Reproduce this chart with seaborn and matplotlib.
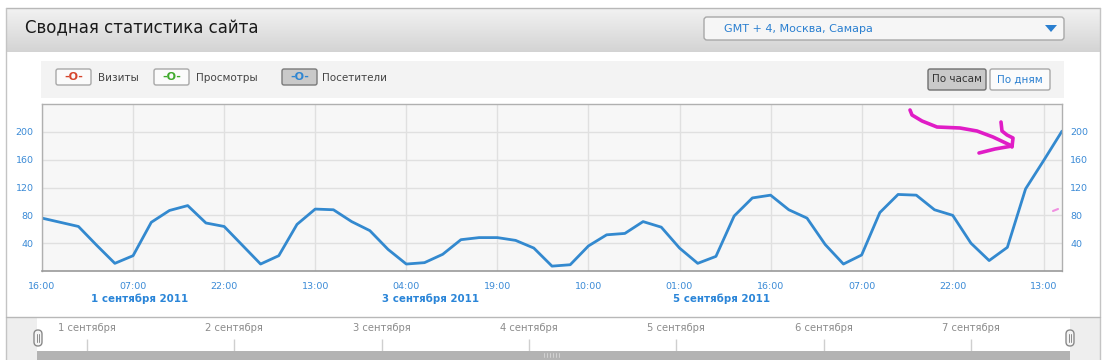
import numpy as np
import pandas as pd
import matplotlib
matplotlib.use("Agg")
import matplotlib.pyplot as plt
import matplotlib.transforms as mtransforms
from matplotlib.patches import Rectangle, FancyBboxPatch, Polygon
import seaborn as sns

# ---------------- data ----------------
start_time = "2011-08-31 16:00"
step = "3h"
visitors = [76, 70, 64, 37, 11, 22, 70, 87, 94, 69, 64, 37, 10, 22, 67, 89, 88,
            71, 58, 31, 10, 12, 24, 45, 48, 48, 44, 33, 7, 9, 36, 52, 54, 71,
            63, 33, 11, 21, 79, 105, 109, 88, 76, 38, 10, 23, 84, 110, 109, 88,
            80, 40, 15, 34, 118, 159, 201]
y_ticks = [40, 80, 120, 160, 200]
x_tick_step = "15h"
date_labels = ["1 сентября 2011", "3 сентября 2011", "5 сентября 2011"]
date_label_days = ["2011-09-01", "2011-09-03", "2011-09-05"]
nav_labels = ["1 сентября", "2 сентября", "3 сентября", "4 сентября",
              "5 сентября", "6 сентября", "7 сентября"]
nav_first_day = "2011-09-01"
legend_items = ["Визиты", "Просмотры", "Посетители"]
legend_colors = ["#d6452c", "#3faa2c", "#2f86d2"]
title = "Сводная статистика сайта"
timezone = "GMT + 4, Москва, Самара"
period_buttons = ["По часам", "По дням"]

# ---------------- figure ----------------
sns.set_style("white")
plt.rcParams["font.family"] = ["DejaVu Sans"]

W, H = 1117, 360
fig = plt.figure(figsize=(W / 100, H / 100), dpi=100)
fig.patch.set_facecolor("white")

bg = fig.add_axes([0, 0, 1, 1])
bg.axis("off")

# header gradient
grad = np.linspace(0.95, 0.83, 64)
img = np.dstack([grad, grad, grad]).reshape(64, 1, 3)
bg.imshow(img, extent=(6, 1100, 52, 8), aspect="auto", interpolation="bilinear")
bg.set_xlim(0, W)
bg.set_ylim(H, 0)
bg.plot([6, 1100], [8, 8], color="#b8b8b8", lw=1)
bg.plot([6, 6], [8, 360], color="#c4c4c4", lw=1)
bg.plot([1100, 1100], [8, 360], color="#c4c4c4", lw=1)
bg.text(25, 28, title, fontsize=12, color="#1a1a1a", va="center", ha="left")

# timezone dropdown
bg.add_patch(FancyBboxPatch((704, 17), 360, 23, boxstyle="round,pad=0,rounding_size=3",
                            facecolor="#f6f6f6", edgecolor="#a8a8a8", lw=1))
bg.text(724, 28.5, timezone, fontsize=8, color="#2a7fd0", va="center", ha="left")
bg.add_patch(Polygon([(1045, 25), (1057, 25), (1051, 32)], closed=True,
                     facecolor="#2a7fd0", edgecolor="none"))

# legend band
bg.add_patch(Rectangle((41, 61), 1023, 37, facecolor="#f3f3f3", edgecolor="none"))
btn_x = [56, 154, 282]
lbl_x = [98, 196, 322]
for i, (name, col) in enumerate(zip(legend_items, legend_colors)):
    pressed = i == 2
    bg.add_patch(FancyBboxPatch((btn_x[i], 69), 35, 16, boxstyle="round,pad=0,rounding_size=2",
                                facecolor="#c9c9c9" if pressed else "#fbfbfb",
                                edgecolor="#7a7a7a" if pressed else "#a8a8a8", lw=1))
    bg.text(btn_x[i] + 17.5, 77, "-O-", fontsize=8, fontweight="bold", color=col,
            ha="center", va="center")
    bg.text(lbl_x[i], 78, name, fontsize=7.5, color="#444444", ha="left", va="center")

# period buttons
pb_x = [928, 990]
pb_w = [58, 60]
for i, name in enumerate(period_buttons):
    pressed = i == 0
    bg.add_patch(FancyBboxPatch((pb_x[i], 69), pb_w[i], 21, boxstyle="round,pad=0,rounding_size=2",
                                facecolor="#c9c9c9" if pressed else "#fbfbfb",
                                edgecolor="#6f6f6f" if pressed else "#a8a8a8", lw=1))
    bg.text(pb_x[i] + pb_w[i] / 2, 79.5, name, fontsize=7.5,
            color="#333333" if pressed else "#2a7fd0", ha="center", va="center")

# navigator chrome
bg.plot([6, 1100], [317, 317], color="#b8b8b8", lw=1)
bg.add_patch(Rectangle((7, 317.5), 30, 43, facecolor="#eeeeee", edgecolor="none"))
bg.add_patch(Rectangle((1070, 317.5), 29.5, 43, facecolor="#eeeeee", edgecolor="none"))
bg.add_patch(Rectangle((37, 351), 1033, 10, facecolor="#b3b3b3", edgecolor="none"))
for gx in np.arange(544, 560, 3):
    bg.plot([gx, gx], [353, 357], color="#d8d8d8", lw=0.6)
for hx in [34, 1066]:
    bg.add_patch(FancyBboxPatch((hx, 330), 8, 16, boxstyle="round,pad=0,rounding_size=4",
                                facecolor="#f4f4f4", edgecolor="#8a8a8a", lw=1))
    bg.plot([hx + 3, hx + 3], [334, 342], color="#8a8a8a", lw=0.7)
    bg.plot([hx + 5, hx + 5], [334, 342], color="#8a8a8a", lw=0.7)

# ---------------- main chart ----------------
times = pd.date_range(start_time, periods=len(visitors), freq=step)
df = pd.DataFrame({"time": times, "visitors": visitors})

ax = fig.add_axes([42 / W, 1 - 271 / H, 1020 / W, 167 / H])
ax.set_facecolor("#f7f7f7")
sns.lineplot(data=df, x="time", y="visitors", ax=ax, color="#3389cf", linewidth=2.0)

t0 = pd.Timestamp(start_time)
ax.set_xlim(t0, t0 + pd.Timedelta(days=7))
ax.set_ylim(0, 240)

xt = pd.date_range(start_time, periods=12, freq=x_tick_step)
ax.set_xticks(xt)
ax.set_xticklabels([t.strftime("%H:%M") for t in xt])
ax.set_yticks(y_ticks)
ax.set_yticklabels([str(v) for v in y_ticks])
ax.grid(True, color="#e0e0e0", lw=1)
ax.set_axisbelow(True)
ax.tick_params(axis="both", length=0, labelsize=6.8, labelcolor="#3a8ad6")
ax.tick_params(axis="x", pad=8)
ax.tick_params(axis="y", pad=6, labelleft=True, labelright=True)
ax.set_xlabel("")
ax.set_ylabel("")
for side in ["left", "right", "top"]:
    ax.spines[side].set_color("#b0b0b0")
    ax.spines[side].set_linewidth(1)
ax.spines["bottom"].set_color("#9a9a9a")
ax.spines["bottom"].set_linewidth(1.2)

trans = mtransforms.blended_transform_factory(ax.transData, ax.transAxes)
for lbl, day in zip(date_labels, date_label_days):
    ax.text(pd.Timestamp(day), -0.168, lbl, transform=trans, fontsize=7.4,
            fontweight="bold", color="#2a85d8", ha="left", va="center", clip_on=False)

# ---------------- navigator axis ----------------
nav = fig.add_axes([38 / W, 1 - 351 / H, (1069 - 38) / W, (351 - 318) / H])
nav.patch.set_alpha(0)
nav.set_xlim(t0, t0 + pd.Timedelta(days=7))
nav.set_ylim(0, 33)
nav.axis("off")
nav_days = pd.date_range(nav_first_day, periods=len(nav_labels), freq="D")
nav.vlines(nav_days, 0, 12, color="#cfcfcf", lw=1)
for d, lbl in zip(nav_days, nav_labels):
    nav.text(d, 23, lbl, fontsize=7.2, color="#8c8c8c", ha="center", va="center")

# ---------------- overlay: hand-drawn magenta arrow ----------------
ov = fig.add_axes([0, 0, 1, 1])
ov.patch.set_alpha(0)
ov.set_xlim(0, W)
ov.set_ylim(H, 0)
ov.axis("off")
pink = "#e01cc6"
arrow_x = [910, 912, 922, 937, 960, 977, 993, 1012]
arrow_y = [110, 115, 121, 127, 128, 131, 137, 146]
ov.plot(arrow_x, arrow_y, color=pink, lw=2.6, solid_capstyle="round", solid_joinstyle="round")
ov.plot([1001, 1002, 1007, 1013, 1012], [122, 131, 135, 138, 147], color=pink, lw=2.6,
        solid_capstyle="round", solid_joinstyle="round")
ov.plot([979, 995, 1012], [153, 149, 146], color=pink, lw=2.6, solid_capstyle="round")
ov.plot([1053, 1058], [211, 209], color="#f08fe0", lw=1.5, solid_capstyle="round")

fig.savefig("out.png", dpi=100)
